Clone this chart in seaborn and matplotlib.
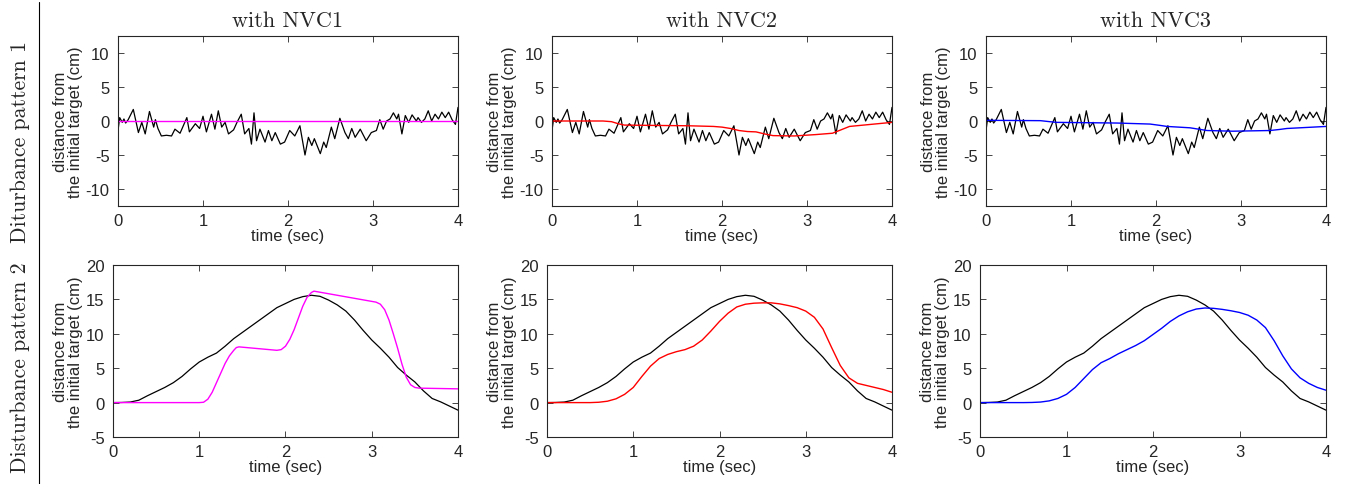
import numpy as np
import pandas as pd
import matplotlib
matplotlib.use("Agg")
import matplotlib.pyplot as plt
from matplotlib.lines import Line2D
import seaborn as sns

# ---- data ----
# disturbance pattern 1 (noisy target, same in all three panels)
dist1_t = [0.00, 0.02, 0.05, 0.07, 0.09, 0.12, 0.18, 0.24, 0.28, 0.32, 0.37, 0.42, 0.44, 0.47,
           0.51, 0.57, 0.63, 0.67, 0.73, 0.81, 0.84, 0.91, 0.96, 1.00, 1.04, 1.10, 1.14, 1.18,
           1.22, 1.26, 1.30, 1.36, 1.40, 1.45, 1.49, 1.54, 1.57, 1.60, 1.63, 1.67, 1.73, 1.77,
           1.81, 1.85, 1.91, 1.96, 2.02, 2.08, 2.14, 2.20, 2.24, 2.28, 2.31, 2.38, 2.42, 2.45,
           2.51, 2.55, 2.61, 2.67, 2.71, 2.75, 2.79, 2.85, 2.92, 2.98, 3.04, 3.08, 3.12, 3.16,
           3.20, 3.24, 3.28, 3.30, 3.34, 3.38, 3.42, 3.46, 3.51, 3.53, 3.57, 3.61, 3.65, 3.69,
           3.73, 3.77, 3.81, 3.85, 3.89, 3.93, 3.97, 4.00]
dist1_v = [-1.4, 0.5, -0.2, 0.3, -0.3, 0.2, 1.7, -1.7, -0.2, -1.9, 1.4, -0.9, 0.2, -1.1,
           -2.2, -2.1, -2.2, -1.2, -1.8, 0.5, -1.6, -0.4, -1.1, 0.7, -1.6, 1.0, -1.2, 1.5,
           -0.9, -0.2, -1.9, -1.3, -0.2, 1.0, -1.9, -1.1, -3.4, 1.2, -2.9, -1.2, -3.1, -1.4,
           -2.9, -1.7, -3.4, -3.1, -1.4, -2.2, -0.7, -5.0, -2.4, -3.6, -2.6, -4.8, -3.1, -3.9,
           -0.9, -2.6, 0.4, -1.7, -2.6, -1.1, -2.4, -1.2, -2.9, -1.7, -1.4, 0.2, -1.2, 0.0,
           0.3, 1.2, 0.3, 1.0, -1.9, 0.8, -0.2, 0.9, 0.0, 0.5, -0.2, 0.3, 1.5, 0.0,
           1.0, 0.3, 1.3, 0.5, 1.3, 0.2, -0.5, 2.0]

# responses to pattern 1
p1_nvc1_t = [0.0, 1.0, 2.0, 3.0, 4.0]
p1_nvc1_v = [0.0, 0.0, 0.0, 0.0, 0.0]
p1_nvc2_t = [0.0, 0.6, 0.7, 0.78, 0.85, 1.2, 1.6, 1.9, 2.0, 2.1, 2.2, 2.3, 2.4, 2.5, 2.6,
             2.85, 3.1, 3.3, 3.4, 3.5, 3.75, 4.0]
p1_nvc2_v = [0.0, 0.0, -0.1, -0.4, -0.6, -0.65, -0.7, -0.8, -0.9, -1.1, -1.4, -1.55, -1.6,
             -1.9, -2.15, -2.2, -2.0, -1.8, -1.3, -0.8, -0.5, -0.2]
p1_nvc3_t = [0.0, 0.64, 0.75, 0.83, 1.54, 1.93, 2.05, 2.13, 2.4, 2.5, 2.6, 2.9, 3.34, 3.45,
             3.54, 4.0]
p1_nvc3_v = [0.1, 0.05, -0.1, -0.2, -0.3, -0.45, -0.65, -0.8, -1.0, -1.2, -1.4, -1.5, -1.4,
             -1.25, -1.1, -0.8]

# disturbance pattern 2 (smooth target)
dist2_t = [0.0, 0.1, 0.2, 0.3, 0.4, 0.5, 0.6, 0.7, 0.8, 0.9, 1.0, 1.1, 1.2, 1.3, 1.4, 1.5,
           1.6, 1.7, 1.8, 1.9, 2.0, 2.1, 2.2, 2.3, 2.4, 2.5, 2.6, 2.7, 2.8, 2.9, 3.0, 3.1,
           3.2, 3.3, 3.4, 3.5, 3.6, 3.7, 3.8, 3.9, 4.0]
dist2_v = [0.0, 0.02, 0.08, 0.35, 1.0, 1.6, 2.2, 2.9, 3.8, 4.9, 5.9, 6.6, 7.2, 8.2, 9.3, 10.2,
           11.1, 12.0, 12.9, 13.8, 14.4, 15.0, 15.4, 15.6, 15.45, 14.9, 14.2, 13.3, 12.0, 10.5,
           9.1, 7.9, 6.6, 5.1, 4.0, 3.0, 1.7, 0.6, 0.1, -0.5, -1.1]

# responses to pattern 2
p2_nvc1_t = [0.0, 1.0, 1.05, 1.1, 1.15, 1.2, 1.25, 1.3, 1.35, 1.4, 1.43, 1.46, 1.9, 1.95,
             2.0, 2.05, 2.1, 2.15, 2.2, 2.25, 2.3, 2.33, 3.05, 3.1, 3.15, 3.2, 3.25, 3.3,
             3.35, 3.4, 3.45, 3.5, 3.55, 4.0]
p2_nvc1_v = [0.0, 0.0, 0.05, 0.5, 1.5, 2.9, 4.3, 5.7, 6.8, 7.6, 8.0, 8.1, 7.6, 7.7,
             8.2, 9.2, 10.6, 12.3, 14.0, 15.3, 16.0, 16.2, 14.6, 14.3, 13.5, 12.0, 10.0, 7.9,
             5.6, 3.7, 2.6, 2.2, 2.1, 2.0]
p2_nvc2_t = [0.0, 0.5, 0.6, 0.7, 0.8, 0.9, 1.0, 1.1, 1.2, 1.3, 1.4, 1.5, 1.6, 1.7, 1.8,
             1.9, 2.0, 2.1, 2.2, 2.3, 2.4, 2.5, 2.6, 2.7, 2.8, 2.9, 3.0, 3.1, 3.2, 3.3,
             3.4, 3.5, 3.6, 3.7, 3.8, 3.9, 4.0]
p2_nvc2_v = [0.0, 0.0, 0.05, 0.2, 0.55, 1.2, 2.2, 3.8, 5.3, 6.4, 7.0, 7.4, 7.7, 8.2, 9.1,
             10.4, 11.8, 13.0, 13.9, 14.3, 14.45, 14.5, 14.5, 14.35, 14.1, 13.8, 13.3, 12.4,
             10.7, 8.0, 5.4, 3.6, 2.8, 2.5, 2.2, 1.9, 1.5]
p2_nvc3_t = [0.0, 0.5, 0.6, 0.7, 0.8, 0.9, 1.0, 1.1, 1.2, 1.3, 1.4, 1.5, 1.6, 1.7, 1.8,
             1.9, 2.0, 2.1, 2.2, 2.3, 2.4, 2.5, 2.6, 2.7, 2.8, 2.9, 3.0, 3.1, 3.2, 3.3,
             3.4, 3.5, 3.6, 3.7, 3.8, 3.9, 4.0]
p2_nvc3_v = [0.0, 0.0, 0.02, 0.08, 0.25, 0.6, 1.2, 2.2, 3.5, 4.8, 5.8, 6.4, 7.1, 7.7, 8.3,
             9.0, 9.9, 10.8, 11.8, 12.6, 13.2, 13.6, 13.75, 13.7, 13.55, 13.35, 13.1, 12.7,
             12.0, 10.9, 9.0, 6.8, 4.9, 3.6, 2.8, 2.2, 1.8]

col_titles = ["with NVC1", "with NVC2", "with NVC3"]
row_titles = ["Diturbance pattern 1", "Disturbance pattern 2"]
nvc_colors = ["#ff00ff", "#ff0000", "#0000ff"]

# ---- style ----
sns.set_style("ticks")
plt.rcParams['font.family'] = ['Liberation Sans', 'DejaVu Sans']
plt.rcParams['axes.unicode_minus'] = False

W, H = 1346, 485
fig = plt.figure(figsize=(W / 100, H / 100), dpi=100)


def px_axes(left, top, right, bottom):
    return fig.add_axes([left / W, 1 - bottom / H, (right - left) / W, (bottom - top) / H])


def style(ax, ylim, yticks):
    ax.set_xlim(0, 4)
    ax.set_ylim(*ylim)
    ax.set_xticks([0, 1, 2, 3, 4])
    ax.set_yticks(yticks)
    ax.tick_params(direction='in', length=4, width=0.6, top=True, right=True,
                   labelsize=12, colors='#262626')
    ax.tick_params(axis='x', pad=5)
    ax.tick_params(axis='y', pad=6)
    for s in ax.spines.values():
        s.set_color('#262626')
        s.set_linewidth(0.8)
    ax.set_xlabel("time (sec)", fontsize=12, color='#262626', labelpad=0)
    ax.set_ylabel("distance from\nthe initial target (cm)", fontsize=12,
                  color='#262626', labelpad=2, linespacing=1.0)


top_cols = [(118, 458), (552, 892), (986, 1326)]
bot_cols = [(113, 458), (547, 892), (980, 1326)]
p1_resp = [(p1_nvc1_t, p1_nvc1_v), (p1_nvc2_t, p1_nvc2_v), (p1_nvc3_t, p1_nvc3_v)]
p2_resp = [(p2_nvc1_t, p2_nvc1_v), (p2_nvc2_t, p2_nvc2_v), (p2_nvc3_t, p2_nvc3_v)]

for i in range(3):
    # row 1
    ax = px_axes(top_cols[i][0], 37, top_cols[i][1], 207)
    sns.lineplot(x=dist1_t, y=dist1_v, ax=ax, color='k', lw=0.9, estimator=None, sort=False)
    sns.lineplot(x=p1_resp[i][0], y=p1_resp[i][1], ax=ax, color=nvc_colors[i], lw=1.0,
                 estimator=None, sort=False)
    style(ax, (-12.5, 12.5), [-10, -5, 0, 5, 10])
    ax.set_title(col_titles[i], family='cmr10', fontsize=16, pad=7)

    # row 2
    ax = px_axes(bot_cols[i][0], 266, bot_cols[i][1], 438)
    sns.lineplot(x=dist2_t, y=dist2_v, ax=ax, color='k', lw=0.9, estimator=None, sort=False)
    sns.lineplot(x=p2_resp[i][0], y=p2_resp[i][1], ax=ax, color=nvc_colors[i], lw=1.0,
                 estimator=None, sort=False)
    style(ax, (-5, 20), [-5, 0, 5, 10, 15, 20])

# row labels and separator
fig.text(20 / W, 1 - 142 / H, row_titles[0], rotation=90, family='cmr10', fontsize=15.7,
         ha='center', va='center')
fig.text(20 / W, 1 - 368 / H, row_titles[1], rotation=90, family='cmr10', fontsize=15.7,
         ha='center', va='center')
fig.add_artist(Line2D([39 / W, 39 / W], [0, 1 - 3 / H], color='k', lw=0.8))

fig.savefig("out.png", dpi=100)
